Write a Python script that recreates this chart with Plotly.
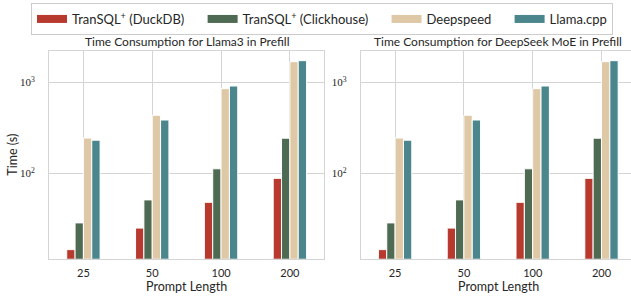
import plotly.graph_objects as go

categories = ["25", "50", "100", "200"]
series_names = ["TranSQL<sup>+</sup> (DuckDB)", "TranSQL<sup>+</sup> (Clickhouse)", "Deepspeed", "Llama.cpp"]
duckdb = [14.5, 25, 48, 88]
clickhouse = [28.5, 51, 112, 243]
deepspeed = [244, 434, 851, 1683]
llamacpp = [231, 385, 910, 1727]
llama3_values = [duckdb, clickhouse, deepspeed, llamacpp]
deepseek_values = [duckdb, clickhouse, deepspeed, llamacpp]
colors = ["#b83a2e", "#4e6a52", "#dfc8a5", "#4a868c"]
subplot_titles = ["Time Consumption for Llama3 in Prefill", "Time Consumption for DeepSeek MoE in Prefill"]
ytick_vals = [100, 1000]
ytick_text = ["10<sup>2</sup>", "10<sup>3</sup>"]

W, H = 631, 301
FONT = "Lato"
TXT = "#262626"
GRID = "#d4d4d4"
PAD = "\u00a0" * 4

fig = go.Figure()
for panel, (vals, xa, ya) in enumerate([(llama3_values, "x", "y"), (deepseek_values, "x2", "y2")]):
    for i, name in enumerate(series_names):
        fig.add_trace(go.Bar(
            x=list(range(len(categories))), y=vals[i], name=name,
            marker=dict(color=colors[i], line=dict(color="white", width=1)),
            xaxis=xa, yaxis=ya, showlegend=False,
        ))

# legend entries (wide patches like the reference)
for i, name in enumerate(series_names):
    fig.add_trace(go.Scatter(
        x=[None], y=[None], mode="lines", name=name + (PAD if i < len(series_names) - 1 else ""),
        line=dict(color=colors[i], width=8), xaxis="x", yaxis="y", showlegend=True,
    ))

def px_x(p):
    return p / W

def px_y(p):
    return 1 - p / H

top, bottom = 50.7, 258.7
ydom = [px_y(bottom), px_y(top)]
yrange = [1.0615, 3.347]

axis_common = dict(showgrid=True, gridcolor=GRID, gridwidth=1, showline=True, linecolor=GRID,
                   linewidth=1, ticks="", zeroline=False)

fig.update_layout(
    width=W, height=H, margin=dict(l=0, r=0, t=0, b=0),
    paper_bgcolor="white", plot_bgcolor="white",
    barmode="group", bargap=0.515, bargroupgap=0,
    font=dict(family=FONT, color=TXT, size=11),
    xaxis=dict(domain=[px_x(49), px_x(324.3)], range=[-0.5, 3.5], tickvals=list(range(4)), mirror=True,
               ticktext=categories, tickfont=dict(size=11), ticklabelstandoff=4, anchor="y", **axis_common),
    yaxis=dict(domain=ydom, type="log", range=yrange, tickvals=ytick_vals, ticktext=ytick_text, mirror=True,
               tickfont=dict(family="Liberation Serif", size=11), ticklabelstandoff=11, anchor="x", **axis_common),
    xaxis2=dict(domain=[px_x(360.7), 1], range=[-0.5, 3.429], tickvals=list(range(4)), mirror=True,
                ticktext=categories, tickfont=dict(size=11), ticklabelstandoff=4, anchor="y2", **axis_common),
    yaxis2=dict(domain=ydom, type="log", range=yrange, tickvals=ytick_vals, ticktext=ytick_text, mirror=False,
                tickfont=dict(family="Liberation Serif", size=11), ticklabelstandoff=11, anchor="x2", **axis_common),
    legend=dict(orientation="h", x=322 / W, xanchor="center", y=px_y(3), yanchor="top",
                bgcolor="white", bordercolor="#cccccc", borderwidth=1,
                font=dict(size=13, family=FONT, color=TXT), itemwidth=30),
)

annots = [
    dict(text=subplot_titles[0], x=px_x((49 + 324.3) / 2), y=px_y(41), font=dict(size=12)),
    dict(text=subplot_titles[1], x=px_x((360.7 + 635.5) / 2), y=px_y(41), font=dict(size=12)),
    dict(text="Prompt Length", x=px_x((49 + 324.3) / 2), y=px_y(286.5), font=dict(size=12.5)),
    dict(text="Prompt Length", x=px_x((360.7 + 635.5) / 2), y=px_y(286.5), font=dict(size=12.5)),
    dict(text="Time (s)", x=px_x(13), y=px_y(154.7), textangle=-90, font=dict(size=12.5)),
]
for a in annots:
    fig.add_annotation(xref="paper", yref="paper", showarrow=False, xanchor="center", yanchor="middle", **a)

fig.write_html("out.html", config={"displayModeBar": False},
               post_script="document.body.style.margin='0';document.body.style.overflow='hidden';")
